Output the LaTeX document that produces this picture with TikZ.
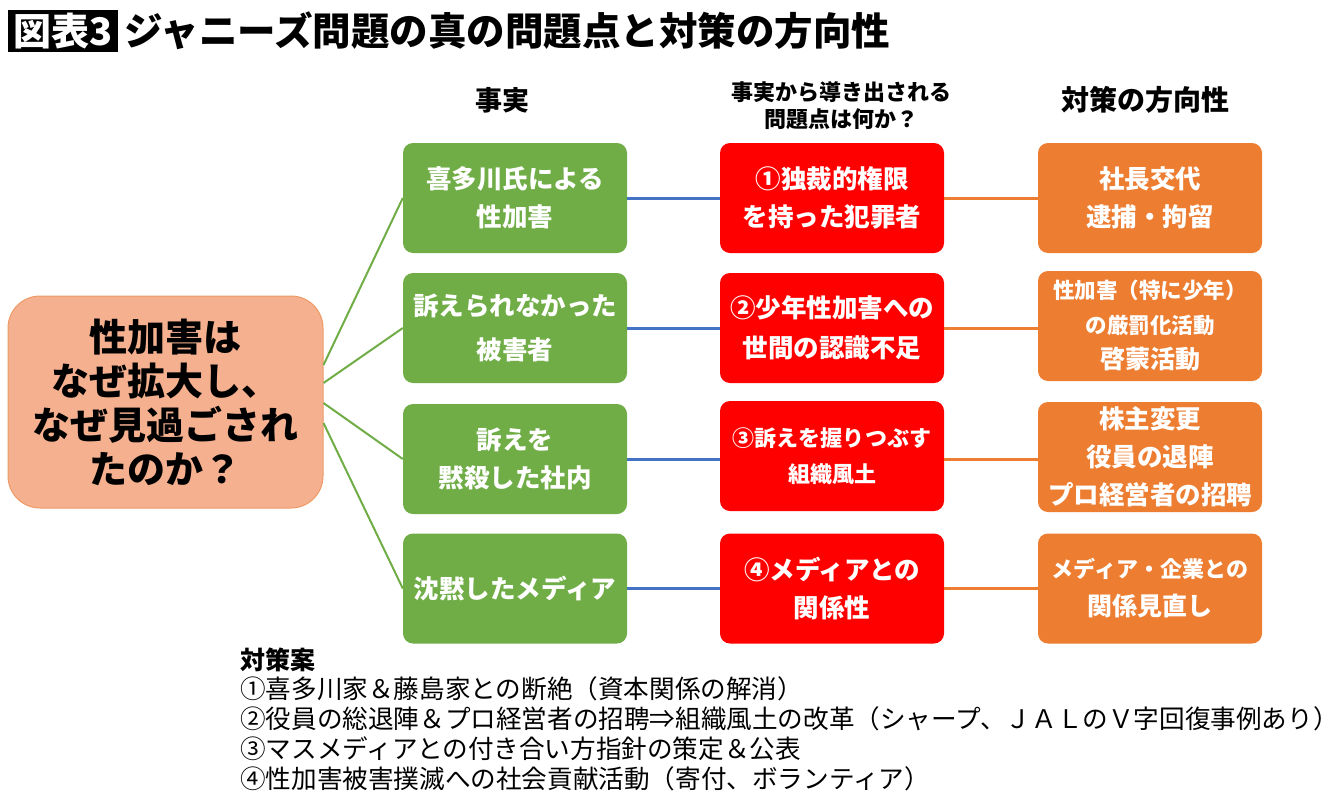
\documentclass[tikz,border=0pt]{standalone}
\usepackage{fontspec}
\setmainfont{Noto Sans CJK JP}
\usetikzlibrary{calc}
\definecolor{cgreen}{HTML}{70AD47}
\definecolor{cred}{HTML}{FF0000}
\definecolor{corange}{HTML}{ED7D31}
\definecolor{cblue}{HTML}{4472C4}
\definecolor{csalmon}{HTML}{F4B08F}
\definecolor{csalmonline}{HTML}{EE9966}
\newcommand{\fs}[1]{\fontsize{#1pt}{#1pt}\selectfont}
\tikzset{
  box/.style={rounded corners=10pt, minimum width=224pt, minimum height=110pt,
    inner sep=0pt, align=center, text=white, font=\bfseries\fontsize{25.5pt}{38pt}\selectfont},
  gbox/.style={box, fill=cgreen},
  rbox/.style={box, fill=cred},
  obox/.style={box, fill=corange},
  head/.style={font=\bfseries\fontsize{28pt}{30pt}\selectfont, align=center},
  gline/.style={draw=cgreen, line width=2pt},
  bline/.style={draw=cblue, line width=3pt},
  oline/.style={draw=corange, line width=3pt},
  plain/.style={anchor=west, inner sep=0pt, font=\fontsize{25.6pt}{30pt}\selectfont}
}
\begin{document}
\begin{tikzpicture}[x=1pt,y=-1pt]
\useasboundingbox (0,0) rectangle (1340,798);
% title
\node[fill=black, text=white, minimum width=110pt, minimum height=42pt, inner sep=0pt,
  font=\bfseries\fs{38}] (tag) at (63,31) {図表3};
\node[anchor=west, inner sep=0pt, font=\bfseries\fs{38.5}] (title) at (124,31)
  {ジャニーズ問題の真の問題点と対策の方向性};
% headers
\node[head, font=\bfseries\fs{27}] (h1) at (502,100) {事実};
\node[head, font=\bfseries\fontsize{22pt}{27pt}\selectfont] (h2) at (841,106) {事実から導き出される\\問題点は何か？};
\node[head] (h3) at (1145,100) {対策の方向性};
% left box
\node[rounded corners=32pt, fill=csalmon, draw=csalmonline, line width=1pt,
  minimum width=315pt, minimum height=212pt, inner sep=0pt, align=center,
  font=\bfseries\fontsize{38pt}{44pt}\selectfont] (q) at (165.5,402)
  {性加害は\\なぜ拡大し、\\なぜ見過ごされ\\たのか？};
% green boxes
\node[gbox] (g1) at (515,198) {喜多川氏による\\性加害};
\node[gbox, font=\bfseries\fontsize{25.5pt}{44pt}\selectfont] (g2) at (515,328) {訴えられなかった\\被害者};
\node[gbox] (g3) at (515,459) {訴えを\\黙殺した社内};
\node[gbox] (g4) at (515,588.5) {沈黙したメディア};
% red boxes
\node[rbox] (r1) at (832,198) {①独裁的権限\\を持った犯罪者};
\node[rbox, font=\bfseries\fontsize{25.5pt}{40pt}\selectfont] (r2) at (832,328) {②少年性加害への\\世間の認識不足};
\node[rbox, font=\bfseries\fontsize{22pt}{36pt}\selectfont] (r3) at (832,456) {③訴えを握りつぶす\\組織風土};
\node[rbox] (r4) at (832,588.5) {④メディアとの\\関係性};
% orange boxes
\node[obox] (o1) at (1150,198) {社長交代\\逮捕・拘留};
\node[obox, font=\bfseries\fontsize{21.5pt}{35pt}\selectfont] (o2) at (1150,326)
  {性加害（特に少年）\\の厳罰化活動\\{\fontsize{25pt}{35pt}\selectfont 啓蒙活動}};
\node[obox] (o3) at (1150,457) {株主変更\\役員の退陣\\プロ経営者の招聘};
\node[obox, font=\bfseries\fontsize{22pt}{38pt}\selectfont] (o4) at (1150,588.5)
  {メディア・企業との\\{\fontsize{25pt}{38pt}\selectfont 関係見直し}};
% connectors
\draw[gline] ($(q.east)+(0,-37)$) -- (g1.west);
\draw[gline] ($(q.east)+(0,-19)$) -- (g2.west);
\draw[gline] ($(q.east)+(0,1)$) -- (g3.west);
\draw[gline] ($(q.east)+(0,21)$) -- (g4.west);
\foreach \i in {1,2,3,4}{
  \draw[bline] (g\i.east) -- (r\i.west |- g\i.east);
  \draw[oline] (r\i.east |- g\i.east) -- (o\i.west |- g\i.east);
}
% bottom text
\node[plain, font=\bfseries\fs{25}] (t0) at (240,660) {対策案};
\node[plain] (t1) at (240,689) {①喜多川家＆藤島家との断絶（資本関係の解消）};
\node[plain] (t2) at (240,719) {②役員の総退陣＆プロ経営者の招聘⇒組織風土の改革（シャープ、ＪＡＬのＶ字回復事例あり）};
\node[plain] (t3) at (240,749) {③マスメディアとの付き合い方指針の策定＆公表};
\node[plain] (t4) at (240,779) {④性加害被害撲滅への社会貢献活動（寄付、ボランティア）};
\end{tikzpicture}
\end{document}
